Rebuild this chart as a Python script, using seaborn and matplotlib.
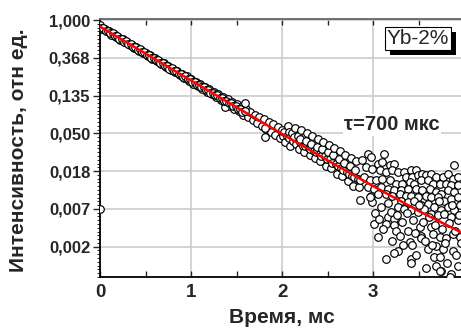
import pandas as pd
import seaborn as sns
import matplotlib.pyplot as plt
import matplotlib.patheffects as pe
from matplotlib.ticker import FixedLocator, NullFormatter

# ── data (time in ms, intensity in rel. units) ───────────────────────────────
t_early = [0.000, 0.025, 0.050, 0.075, 0.100, 0.125, 0.150, 0.175, 0.200, 0.225,
           0.250, 0.275, 0.300, 0.325, 0.350, 0.375, 0.400, 0.425, 0.450, 0.475,
           0.500, 0.525, 0.550, 0.575, 0.600, 0.625, 0.650, 0.675, 0.700, 0.725,
           0.750, 0.775, 0.800, 0.825, 0.850, 0.875, 0.900, 0.925, 0.950, 0.975,
           1.000, 1.025, 1.050, 1.075, 1.100, 1.125, 1.150, 1.175, 1.200, 1.225,
           1.250, 1.275, 1.300, 1.325, 1.350, 1.375, 1.400, 1.425, 1.450, 1.475,
           1.500, 1.525, 1.550, 1.575, 1.600, 1.625, 1.650, 1.675, 1.700, 1.725,
           1.750, 1.775, 1.800, 1.825, 1.850, 1.875, 1.900, 1.925, 1.950, 1.975,
           2.000, 1.370, 1.590, 1.810, 1.810, 0.000]
i_early = [0.870, 0.790, 0.795, 0.740, 0.745, 0.680, 0.690, 0.640, 0.645, 0.595,
           0.600, 0.555, 0.560, 0.515, 0.520, 0.480, 0.485, 0.445, 0.452, 0.415,
           0.422, 0.386, 0.392, 0.359, 0.366, 0.334, 0.341, 0.310, 0.319, 0.289,
           0.297, 0.269, 0.277, 0.250, 0.259, 0.232, 0.241, 0.216, 0.225, 0.201,
           0.210, 0.186, 0.196, 0.174, 0.183, 0.160, 0.172, 0.149, 0.160, 0.140,
           0.150, 0.129, 0.140, 0.120, 0.131, 0.111, 0.123, 0.103, 0.114, 0.095,
           0.107, 0.089, 0.100, 0.082, 0.094, 0.076, 0.088, 0.070, 0.082, 0.065,
           0.077, 0.061, 0.072, 0.056, 0.068, 0.052, 0.063, 0.048, 0.059, 0.044,
           0.055, 0.099, 0.111, 0.057, 0.045, 0.0068]

# in-between samples of the dense early band
t_early2 = [0.0125, 0.0375, 0.0625, 0.0875, 0.1125, 0.1375, 0.1625, 0.1875,
            0.2125, 0.2375, 0.2625, 0.2875, 0.3125, 0.3375, 0.3625, 0.3875,
            0.4125, 0.4375, 0.4625, 0.4875, 0.5125, 0.5375, 0.5625, 0.5875,
            0.6125, 0.6375, 0.6625, 0.6875, 0.7125, 0.7375, 0.7625, 0.7875,
            0.8125, 0.8375, 0.8625, 0.8875, 0.9125, 0.9375, 0.9625, 0.9875,
            1.0125, 1.0375, 1.0625, 1.0875, 1.1125, 1.1375, 1.1625, 1.1875,
            1.2125, 1.2375, 1.2625, 1.2875, 1.3125, 1.3375, 1.3625, 1.3875,
            1.4125, 1.4375, 1.4625, 1.4875, 1.5125, 1.5375, 1.5625, 1.5875]
i_early2 = [0.809, 0.812, 0.753, 0.756, 0.701, 0.704, 0.653, 0.655,
            0.608, 0.610, 0.566, 0.568, 0.527, 0.529, 0.491, 0.493,
            0.457, 0.459, 0.425, 0.427, 0.396, 0.398, 0.369, 0.370,
            0.343, 0.345, 0.320, 0.321, 0.298, 0.299, 0.277, 0.278,
            0.258, 0.259, 0.240, 0.241, 0.224, 0.225, 0.208, 0.209,
            0.194, 0.195, 0.180, 0.181, 0.168, 0.169, 0.157, 0.157,
            0.146, 0.146, 0.136, 0.136, 0.126, 0.127, 0.118, 0.118,
            0.110, 0.110, 0.102, 0.102, 0.095, 0.095, 0.088, 0.089]

t_mid = [2.01, 2.02, 2.03, 2.05, 2.06, 2.07, 2.08, 2.09, 2.11, 2.12, 2.13, 2.14,
         2.15, 2.17, 2.18, 2.19, 2.20, 2.21, 2.23, 2.24, 2.25, 2.26, 2.27, 2.29,
         2.30, 2.31, 2.32, 2.33, 2.35, 2.36, 2.37, 2.38, 2.39, 2.41, 2.42, 2.43,
         2.44, 2.45, 2.47, 2.48, 2.49, 2.50, 2.51, 2.53, 2.54, 2.55, 2.56, 2.57,
         2.59, 2.60, 2.61, 2.62, 2.63, 2.65, 2.66, 2.67, 2.68, 2.69, 2.71, 2.72,
         2.73, 2.74, 2.75, 2.77, 2.78, 2.79, 2.80, 2.81, 2.83, 2.84, 2.85, 2.85]
i_mid = [0.047, 0.052, 0.040, 0.047, 0.060, 0.051, 0.044, 0.036, 0.050, 0.041, 0.045, 0.058,
         0.038, 0.046, 0.033, 0.040, 0.043, 0.054, 0.036, 0.030, 0.036, 0.041, 0.050, 0.034,
         0.028, 0.033, 0.038, 0.047, 0.031, 0.026, 0.030, 0.035, 0.043, 0.029, 0.024, 0.027,
         0.033, 0.040, 0.027, 0.021, 0.025, 0.030, 0.037, 0.025, 0.020, 0.023, 0.028, 0.034,
         0.022, 0.017, 0.021, 0.025, 0.031, 0.020, 0.016, 0.019, 0.023, 0.028, 0.018, 0.014,
         0.017, 0.021, 0.026, 0.016, 0.0125, 0.0155, 0.019, 0.024, 0.015, 0.012, 0.0145, 0.0085]

t_late = [2.94, 2.88, 2.98, 3.12, 3.05, 3.10, 3.18, 3.23, 2.92, 2.99, 3.07, 3.14, 3.21,
          3.27, 3.34, 3.41, 3.47, 3.36, 3.43, 3.49, 3.54, 3.58, 3.63, 3.69, 3.76, 3.82,
          3.87, 3.89, 3.93, 2.90, 2.96, 3.03, 3.10, 3.18, 3.25, 3.32, 3.40, 3.45, 3.52,
          3.60, 3.65, 3.73, 3.80, 3.85, 3.93, 2.94, 3.01, 3.08, 3.16, 3.23, 3.30, 3.38,
          3.47, 3.54, 3.62, 3.69, 3.74, 3.82, 3.89, 2.98, 3.05, 3.14, 3.21, 3.29, 3.36,
          3.41, 3.49, 3.58, 3.63, 3.71, 3.78, 3.85, 3.93, 2.99, 2.96, 3.30, 3.38, 3.45,
          3.52, 3.60, 3.67, 3.74, 3.82, 3.89, 3.95, 3.27, 3.34, 3.41, 3.49, 3.56, 3.63,
          3.71, 3.78, 3.85, 3.93, 3.01, 3.16, 3.14, 3.23, 3.23, 3.25, 3.29, 3.38, 3.51,
          3.52, 3.63, 3.65, 3.73, 3.80, 3.87, 3.95, 3.05, 3.40, 3.43, 3.52, 3.60, 3.69,
          3.76, 3.27, 3.23, 3.14, 3.41, 3.47, 3.41, 3.67, 3.73, 3.69, 3.74, 3.93, 3.85,
          3.73, 3.84, 3.87,
          3.02, 3.06, 3.09, 3.11, 3.16, 3.19, 3.20, 3.26, 3.31, 3.33, 3.37, 3.44, 3.46,
          3.50, 3.55, 3.57, 3.61, 3.64, 3.68, 3.72, 3.75, 3.79, 3.83, 3.86, 3.90, 3.94,
          3.96, 3.91, 3.81, 3.58]
i_late = [0.0291, 0.0244, 0.0266, 0.0291, 0.0223, 0.0233, 0.0213, 0.0223, 0.0204, 0.0195,
          0.0187, 0.0179, 0.0187, 0.0179, 0.0179, 0.0187, 0.0187, 0.0157, 0.0157, 0.0164,
          0.0171, 0.0164, 0.0171, 0.0157, 0.0157, 0.0171, 0.0150, 0.0213, 0.0157, 0.0157,
          0.0143, 0.0143, 0.0150, 0.0143, 0.0131, 0.0131, 0.0137, 0.0131, 0.0143, 0.0143,
          0.0131, 0.0131, 0.0131, 0.0126, 0.0126, 0.0120, 0.0115, 0.0120, 0.0115, 0.0110,
          0.0110, 0.0115, 0.0115, 0.0110, 0.0115, 0.0105, 0.0101, 0.0110, 0.0105, 0.0096,
          0.0101, 0.0101, 0.0096, 0.0101, 0.0096, 0.0096, 0.0092, 0.0096, 0.0092, 0.0092,
          0.0084, 0.0088, 0.0092, 0.0081, 0.0092, 0.0084, 0.0081, 0.0084, 0.0074, 0.0077,
          0.0071, 0.0065, 0.0071, 0.0065, 0.0074, 0.0071, 0.0068, 0.0065, 0.0062, 0.0068,
          0.0059, 0.0057, 0.0059, 0.0054, 0.0050, 0.0045, 0.0054, 0.0045, 0.0052, 0.0044,
          0.0038, 0.0033, 0.0038, 0.0042, 0.0033, 0.0042, 0.0035, 0.0032, 0.0031, 0.0035,
          0.0032, 0.0032, 0.0028, 0.0026, 0.0031, 0.0023, 0.0025, 0.0023, 0.0022, 0.0021,
          0.0018, 0.0018, 0.0020, 0.0016, 0.0019, 0.0019, 0.0015, 0.0013, 0.0015, 0.0012,
          0.0013, 0.0011, 0.0022,
          0.0060, 0.0052, 0.0070, 0.0040, 0.0078, 0.0062, 0.0029, 0.0058, 0.0047, 0.0026,
          0.0061, 0.0050, 0.0036, 0.0074, 0.0047, 0.0029, 0.0055, 0.0026, 0.0044, 0.0082,
          0.0040, 0.0027, 0.0046, 0.0075, 0.0038, 0.0058, 0.0027, 0.0020, 0.0016, 0.0014]

# exponential fit, tau = 700 us
fit_t = [0.0, 0.5, 1.0, 1.5, 2.0, 2.5, 3.0, 3.5, 4.0]
fit_i = [0.840, 0.412, 0.202, 0.0993, 0.0489, 0.0243, 0.0123, 0.00636, 0.00347]

y_ticks = [1.0, 0.3679, 0.1353, 0.0498, 0.0183, 0.00674, 0.00248]
y_labels = ["1,000", "0,368", "0,135", "0,050", "0,018", "0,007", "0,002"]
x_ticks = [0, 1, 2, 3]

df = pd.DataFrame({"t": t_early + t_early2 + t_mid + t_late,
                   "I": i_early + i_early2 + i_mid + i_late})
fit = pd.DataFrame({"t": fit_t, "I": fit_i})

# ── style ────────────────────────────────────────────────────────────────────
sns.set_style("ticks")
plt.rcParams["font.family"] = ["Liberation Sans", "DejaVu Sans"]
plt.rcParams["font.weight"] = "bold"

fig = plt.figure(figsize=(4.61, 3.29), dpi=100)
ax = fig.add_axes([100 / 461, 52 / 329, 364.4 / 461, 257.7 / 329])

sns.scatterplot(data=df, x="t", y="I", ax=ax, marker="o", s=30,
                facecolor="white", edgecolor="black", linewidth=0.85, zorder=3)
sns.lineplot(data=fit, x="t", y="I", ax=ax, color="#ff0000", linewidth=1.8, zorder=4)

ax.set_yscale("log")
ax.set_xlim(0, 4)
ax.set_ylim(0.00111, 1.02)

ax.set_yticks(y_ticks)
ax.set_yticklabels(y_labels)
ax.yaxis.set_minor_locator(FixedLocator([2.718281828 ** (-k / 10) for k in range(69)]))
ax.yaxis.set_minor_formatter(NullFormatter())
ax.set_xticks(x_ticks)
ax.set_xticklabels([str(v) for v in x_ticks])
ax.xaxis.set_minor_locator(FixedLocator([0.5, 1.5, 2.5, 3.5]))

ax.grid(True, which="major", color="#cccccc", linewidth=1.2)
ax.set_axisbelow(True)

for s in ["left", "bottom"]:
    ax.spines[s].set_linewidth(1.3)
    ax.spines[s].set_color("black")
ax.spines["top"].set_visible(True)
ax.spines["top"].set_color("#666666")
ax.spines["top"].set_linewidth(1.3)
ax.spines["right"].set_visible(False)

ax.tick_params(axis="y", which="major", direction="out", length=5, width=1,
               labelsize=12, pad=2)
ax.tick_params(axis="y", which="minor", direction="out", length=2.5, width=0.7)
ax.tick_params(axis="x", which="both", direction="in", top=True, length=4,
               width=1, labelsize=13.5, pad=5)

ax.set_xlabel("Время, мс", fontsize=15, fontweight="bold", va="center")
ax.xaxis.set_label_coords(0.4995, -0.159)
ax.set_ylabel("Интенсивность, отн ед.", fontsize=15, fontweight="bold", va="center")
ax.yaxis.set_label_coords(-0.225, 0.49)

ax.text(0.801, 0.59, "τ=700 мкс", transform=ax.transAxes, ha="center", va="center",
        fontsize=14.5, fontweight="bold", zorder=5,
        bbox=dict(facecolor="white", edgecolor="none", pad=1))

box = ax.text(0.873, 0.925, "Yb-2%", transform=ax.transAxes, ha="center", va="center",
              fontsize=15, fontweight="normal", zorder=6,
              bbox=dict(boxstyle="square,pad=0.1", facecolor="white",
                        edgecolor="black", linewidth=0.8))
box.get_bbox_patch().set_path_effects(
    [pe.SimplePatchShadow(offset=(3.5, -3.5), shadow_rgbFace="black", alpha=1), pe.Normal()])

plt.savefig("out.png", dpi=100)
plt.close()
